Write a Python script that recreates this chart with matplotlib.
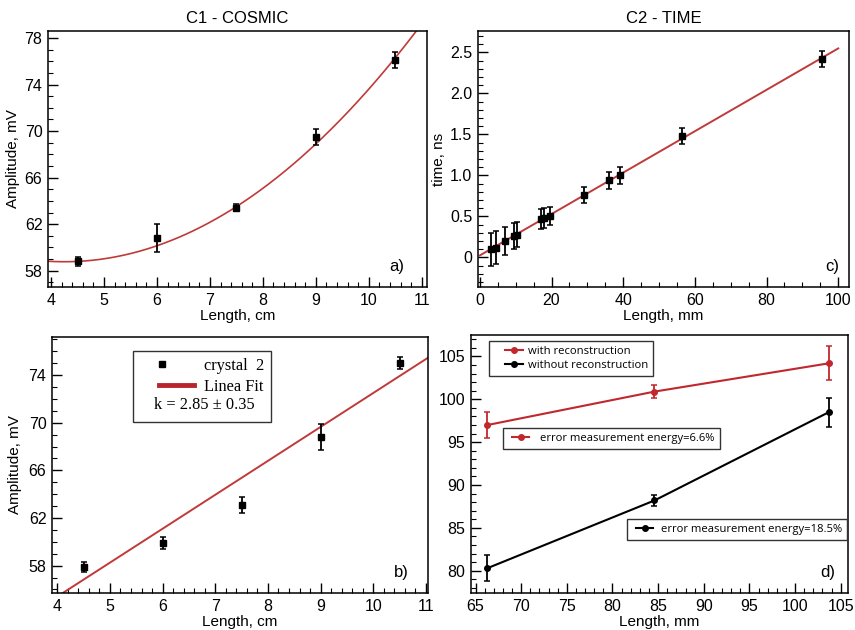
import numpy as np
import matplotlib
matplotlib.use("Agg")
import matplotlib.pyplot as plt
from matplotlib.lines import Line2D
from matplotlib.legend_handler import HandlerLine2D
from matplotlib.ticker import MultipleLocator

# panel a - C1 cosmic
a_len = [4.5, 6.0, 7.5, 9.0, 10.5]
a_amp = [58.8, 60.8, 63.4, 69.5, 76.1]
a_err = [0.35, 1.2, 0.3, 0.7, 0.7]

# panel c - C2 time
c_len = [3.0, 4.5, 7.0, 9.5, 10.5, 17.0, 18.0, 19.5, 29.0, 36.0, 39.0, 56.5, 95.5]
c_time = [0.10, 0.12, 0.20, 0.26, 0.28, 0.47, 0.48, 0.50, 0.76, 0.94, 1.00, 1.48, 2.42]
c_err = [0.20, 0.20, 0.17, 0.16, 0.15, 0.12, 0.12, 0.11, 0.10, 0.10, 0.10, 0.10, 0.10]

# panel b - crystal 2
b_len = [4.5, 6.0, 7.5, 9.0, 10.5]
b_amp = [57.9, 59.9, 63.1, 68.8, 75.0]
b_err = [0.4, 0.5, 0.7, 1.1, 0.5]
b_k = 2.85
b_k_err = 0.35
b_const = 44.0

# panel d - energy vs length
d_len = [66.3, 84.6, 103.7]
d_with = [97.0, 100.9, 104.2]
d_with_err = [1.5, 0.8, 2.0]
d_without = [80.3, 88.2, 98.5]
d_without_err = [1.5, 0.6, 1.7]

RED = "#c0282d"
FIT = "#c03a3a"

plt.rcParams["font.family"] = ["Liberation Sans", "DejaVu Sans"]
plt.rcParams["axes.linewidth"] = 1.1


def style(ax, xmaj, xmin, ymaj, ymin, yoff=0):
    ax.xaxis.set_major_locator(MultipleLocator(xmaj))
    ax.xaxis.set_minor_locator(MultipleLocator(xmin))
    ax.yaxis.set_major_locator(MultipleLocator(ymaj, offset=yoff))
    ax.yaxis.set_minor_locator(MultipleLocator(ymin))
    ax.tick_params(which="both", direction="in", labelsize=11.5, top=False, right=False)
    ax.tick_params(which="major", length=7, width=1.0, pad=4)
    ax.tick_params(which="minor", length=3.5, width=0.8)


def points(ax, x, y, e, color="black", marker="s", ms=5):
    ax.errorbar(x, y, yerr=e, fmt=marker, color=color, ms=ms, elinewidth=1.3,
                capsize=2, capthick=1.1, zorder=3)


fig = plt.figure(figsize=(8.55, 6.3), dpi=100)

# a)
ax = fig.add_axes([0.0561, 0.5444, 0.4433, 0.4063])
coef = np.polyfit(a_len, a_amp, 2, w=1 / np.array(a_err))
xs = np.linspace(3.9, 11.2, 300)
ax.plot(xs, np.polyval(coef, xs), color=FIT, lw=1.2, zorder=2)
points(ax, a_len, a_amp, a_err)
ax.set_xlim(3.94, 11.1)
ax.set_ylim(56.6, 78.6)
style(ax, 1, 0.2, 4, 1, yoff=2)
ax.set_title("C1 - COSMIC", fontsize=12, pad=6)
ax.set_xlabel("Length, cm", fontsize=11, labelpad=1)
ax.set_ylabel("Amplitude, mV", fontsize=11, labelpad=3)
ax.text(0.92, 0.08, "a)", transform=ax.transAxes, fontsize=12, ha="center", va="center")

# c)
ax = fig.add_axes([0.5591, 0.5444, 0.4339, 0.4063])
coef = np.polyfit(c_len, c_time, 1, w=1 / np.array(c_err))
xs = np.linspace(0, 100, 50)
ax.plot(xs, np.polyval(coef, xs), color=FIT, lw=1.4, zorder=2)
points(ax, c_len, c_time, c_err)
ax.set_xlim(-0.5, 103)
ax.set_ylim(-0.36, 2.76)
style(ax, 20, 5, 0.5, 0.1)
ax.yaxis.set_major_formatter(lambda v, p: "0" if abs(v) < 1e-9 else f"{v:.1f}")
ax.set_title("C2 - TIME", fontsize=12, pad=6)
ax.set_xlabel("Length, mm", fontsize=11, labelpad=1)
ax.set_ylabel("time, ns", fontsize=11, labelpad=3)
ax.text(0.954, 0.08, "c)", transform=ax.transAxes, fontsize=12, ha="center", va="center")

# b)
ax = fig.add_axes([0.0608, 0.0587, 0.4398, 0.4063])
xs = np.linspace(3.9, 11.2, 50)
ax.plot(xs, b_k * xs + b_const, color=FIT, lw=1.4, zorder=2)
points(ax, b_len, b_amp, b_err)
ax.set_xlim(3.9, 11.04)
ax.set_ylim(55.7, 77.2)
style(ax, 1, 0.2, 4, 1, yoff=2)
ax.set_xlabel("Length, cm", fontsize=11, labelpad=1)
ax.set_ylabel("Amplitude, mV", fontsize=11, labelpad=5)
ax.text(0.93, 0.08, "b)", transform=ax.transAxes, fontsize=12, ha="center", va="center")
h_mark = Line2D([], [], ls="none", marker="s", ms=5, color="black")
h_fit = Line2D([], [], color="#b8262b", lw=3.5)
h_blank = Line2D([], [], ls="none")
leg = ax.legend([h_mark, h_fit, h_blank], ["crystal  2", "Linea Fit", " "],
                loc="upper left", bbox_to_anchor=(0.215, 0.945),
                prop={"family": "Liberation Serif", "size": 11.8}, frameon=True,
                fancybox=False, edgecolor="#333333", framealpha=1,
                handlelength=3.35, handletextpad=0.6, labelspacing=0.3,
                borderpad=0.4, borderaxespad=0,
                handler_map={h_mark: HandlerLine2D(xpad=-0.53),
                             h_fit: HandlerLine2D(xpad=1.2)})
leg.get_frame().set_linewidth(1.0)
ax.text(0.405, 0.735, f"k = {b_k:.2f} ± {b_k_err:.2f}", transform=ax.transAxes,
        family="Liberation Serif", fontsize=11.8, ha="center", va="center", zorder=10)

# d)
ax = fig.add_axes([0.5509, 0.0587, 0.4409, 0.4095])
ax.errorbar(d_len, d_with, yerr=d_with_err, fmt="-o", color=RED, ms=4, lw=1.5,
            elinewidth=1.3, capsize=2.5, capthick=1.1, zorder=3)
ax.errorbar(d_len, d_without, yerr=d_without_err, fmt="-o", color="black", ms=4, lw=1.5,
            elinewidth=1.3, capsize=2.5, capthick=1.1, zorder=3)
ax.set_xlim(64.5, 105.8)
ax.set_ylim(77.4, 107.5)
style(ax, 5, 1, 5, 1)
ax.set_xlabel("Length, mm", fontsize=11, labelpad=1)
ax.text(0.947, 0.08, "d)", transform=ax.transAxes, fontsize=12, ha="center", va="center")

red_h = Line2D([], [], color=RED, marker="o", ms=4, lw=1.5)
blk_h = Line2D([], [], color="black", marker="o", ms=4, lw=1.5)
lprops = {"family": "Open Sans", "size": 8.1}
common = dict(frameon=True, fancybox=False, edgecolor="#333333", framealpha=1,
              borderaxespad=0, borderpad=0.45)
leg1 = ax.legend([red_h, blk_h], ["with reconstruction", "without reconstruction"],
                 loc="upper left", bbox_to_anchor=(0.048, 0.977), prop=lprops,
                 labelspacing=0.3, handlelength=2.55, handletextpad=0.45,
                 handler_map={Line2D: HandlerLine2D(xpad=1.0)}, **common)
leg1.get_frame().set_linewidth(1.0)
ax.add_artist(leg1)
leg2 = ax.legend([red_h], ["error measurement energy=6.6%"], loc="upper left",
                 bbox_to_anchor=(0.085, 0.64), prop=lprops,
                 handlelength=1.85, handletextpad=1.0,
                 handler_map={Line2D: HandlerLine2D(xpad=0.36)}, **common)
leg2.get_frame().set_linewidth(1.0)
ax.add_artist(leg2)
leg3 = ax.legend([blk_h], ["error measurement energy=18.5%"], loc="upper left",
                 bbox_to_anchor=(0.414, 0.287), prop=lprops,
                 handlelength=1.85, handletextpad=0.7,
                 handler_map={Line2D: HandlerLine2D(xpad=0.36)}, **common)
leg3.get_frame().set_linewidth(1.0)

fig.savefig("out.png", dpi=100)
